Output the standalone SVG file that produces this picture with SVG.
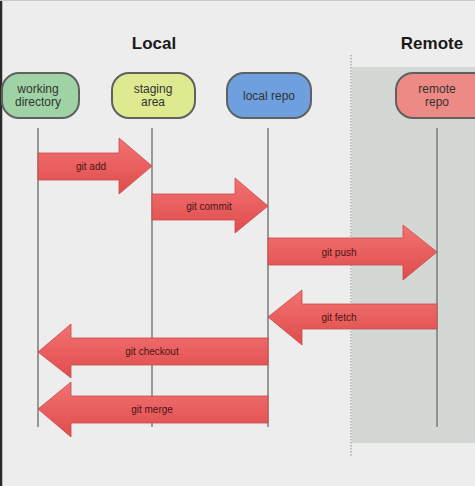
<svg xmlns="http://www.w3.org/2000/svg" width="475" height="486" viewBox="0 0 475 486">
<defs>
<linearGradient id="ag" x1="0" y1="0" x2="0" y2="1">
<stop offset="0" stop-color="#f27272"/>
<stop offset="1" stop-color="#e04c4c"/>
</linearGradient>
<style>
.title{font-family:"Liberation Sans",Arial,sans-serif;font-weight:bold;font-size:17px;fill:#1a1a1a;text-anchor:middle}
.nt{font-family:"Liberation Sans",Arial,sans-serif;font-size:12px;fill:#333;text-anchor:middle}
.node{stroke:#5f6060;stroke-width:2}
.life{stroke:#7a7a7a;stroke-width:1.5;fill:none}
.arrow{fill:url(#ag);stroke:#c94a4a;stroke-width:0.8}
.al{font-family:"Liberation Sans",Arial,sans-serif;font-size:10px;fill:#4a1515;text-anchor:middle}
</style>
</defs>
<rect x="0" y="0" width="475" height="486" fill="#ededed"/>
<rect x="352" y="67" width="123" height="376" fill="#d3d8d5"/>
<line x1="351" y1="55" x2="351" y2="456" stroke="#8a8a8a" stroke-width="1" stroke-dasharray="1.5,1.5"/>
<line x1="1" y1="0" x2="1" y2="486" stroke="#2a2a2a" stroke-width="2.5"/>
<line x1="0" y1="0.5" x2="475" y2="0.5" stroke="#c8c8c8" stroke-width="1"/>
<text class="title" x="154" y="49">Local</text>
<text class="title" x="432" y="49">Remote</text>
<g id="lifelines">
<line class="life" x1="38" y1="128" x2="38" y2="427"/>
<line class="life" x1="152" y1="128" x2="152" y2="427"/>
<line class="life" x1="268" y1="128" x2="268" y2="427"/>
<line class="life" x1="437" y1="128" x2="437" y2="427"/>
</g>
<g id="working-directory">
<rect class="node" x="2" y="73" width="77" height="45" rx="17" fill="#9fd3a5"/>
<text class="nt" x="38" y="93">working</text>
<text class="nt" x="38" y="106">directory</text>
</g>
<g id="staging-area">
<rect class="node" x="112" y="73" width="83" height="45" rx="17" fill="#dfe98f"/>
<text class="nt" x="153" y="93">staging</text>
<text class="nt" x="153" y="106">area</text>
</g>
<g id="local-repo">
<rect class="node" x="227" y="73" width="84" height="45" rx="17" fill="#6ea0e0"/>
<text class="nt" x="269" y="100">local repo</text>
</g>
<g id="remote-repo">
<rect class="node" x="396" y="73" width="95" height="45" rx="17" fill="#ee8a86"/>
<text class="nt" x="437" y="93">remote</text>
<text class="nt" x="437" y="106">repo</text>
</g>
<g id="connectors">
<polygon class="arrow" points="38,153 119,153 119,138 152,166 119,194 119,180 38,180"/>
<text class="al" x="91" y="170">git add</text>
<polygon class="arrow" points="152,194 235,194 235,178 268,206 235,233 235,220 152,220"/>
<text class="al" x="209" y="210">git commit</text>
<polygon class="arrow" points="268,238 403,238 403,225 437,252 403,280 403,265 268,265"/>
<text class="al" x="339" y="256">git push</text>
<polygon class="arrow" points="437,304 302,304 302,290 268,317 302,345 302,329 437,329"/>
<text class="al" x="339" y="321">git fetch</text>
<polygon class="arrow" points="268,338 71,338 71,324 38,352 71,378 71,365 268,365"/>
<text class="al" x="152" y="355">git checkout</text>
<polygon class="arrow" points="268,396 71,396 71,382 38,409 71,437 71,423 268,423"/>
<text class="al" x="152" y="413">git merge</text>
</g>
</svg>
